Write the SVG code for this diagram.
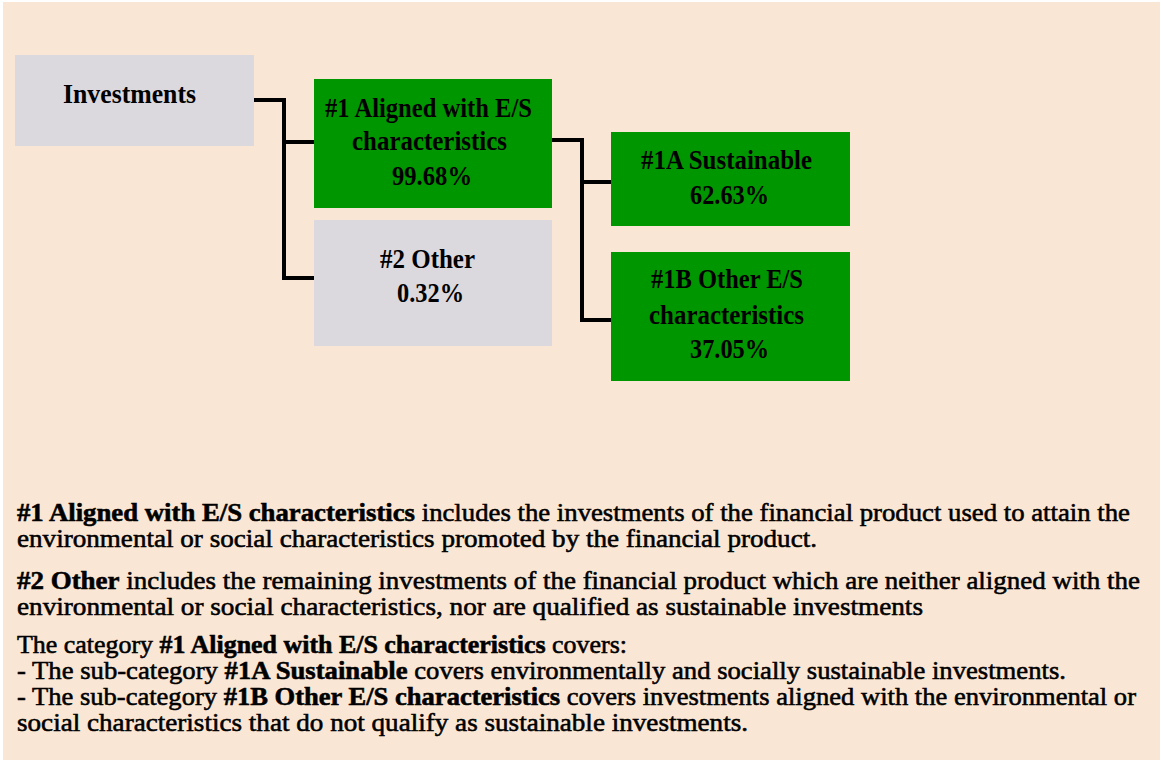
<svg xmlns="http://www.w3.org/2000/svg" width="1161" height="762" viewBox="0 0 1161 762">
<style>
.bg{fill:#FAE6D4}
.gray{fill:#DBD8DE}
.green{fill:#009600}
.t{font-family:"Liberation Serif","Times New Roman",serif;font-size:25px;fill:#000}
.n{font-size:28px}
.b{font-weight:bold}
.r{stroke:#000;stroke-width:0.55px}
.conn{fill:none;stroke:#000;stroke-width:4px;stroke-linejoin:miter}
</style>
<rect x="0" y="0" width="1161" height="762" fill="#ffffff"/>
<rect class="bg" x="3" y="2" width="1157" height="758"/>
<g id="connectors">
<path class="conn" d="M254,100 H284 V278 H314 M284,142 H314"/>
<path class="conn" d="M552,140 H582 V320 H611 M582,182 H611"/>
</g>
<g id="node-investments">
<rect class="gray" x="15" y="55" width="239" height="91"/>
<text class="t n b" x="63" y="103" textLength="133" lengthAdjust="spacingAndGlyphs">Investments</text>
</g>
<g id="node-aligned">
<rect class="green" x="314" y="79" width="238" height="129"/>
<text class="t n b" x="325" y="117" textLength="207" lengthAdjust="spacingAndGlyphs">#1 Aligned with E/S</text>
<text class="t n b" x="352" y="150" textLength="155" lengthAdjust="spacingAndGlyphs">characteristics</text>
<text class="t n b" x="392" y="185" textLength="80" lengthAdjust="spacingAndGlyphs">99.68%</text>
</g>
<g id="node-other">
<rect class="gray" x="314" y="220" width="238" height="126"/>
<text class="t n b" x="380" y="268" textLength="95" lengthAdjust="spacingAndGlyphs">#2 Other</text>
<text class="t n b" x="397" y="302" textLength="67" lengthAdjust="spacingAndGlyphs">0.32%</text>
</g>
<g id="node-sustainable">
<rect class="green" x="611" y="132" width="239" height="94"/>
<text class="t n b" x="641" y="169" textLength="171" lengthAdjust="spacingAndGlyphs">#1A Sustainable</text>
<text class="t n b" x="690" y="204" textLength="79" lengthAdjust="spacingAndGlyphs">62.63%</text>
</g>
<g id="node-other-es">
<rect class="green" x="611" y="252" width="239" height="129"/>
<text class="t n b" x="651" y="288" textLength="152" lengthAdjust="spacingAndGlyphs">#1B Other E/S</text>
<text class="t n b" x="649" y="324" textLength="155" lengthAdjust="spacingAndGlyphs">characteristics</text>
<text class="t n b" x="690" y="358" textLength="79" lengthAdjust="spacingAndGlyphs">37.05%</text>
</g>
<g id="legend">
<text class="t r" x="17" y="521" textLength="1113" lengthAdjust="spacingAndGlyphs"><tspan class="b">#1 Aligned with E/S characteristics</tspan> includes the investments of the financial product used to attain the</text>
<text class="t r" x="17" y="547" textLength="800" lengthAdjust="spacingAndGlyphs">environmental or social characteristics promoted by the financial product.</text>
<text class="t r" x="17" y="589" textLength="1123" lengthAdjust="spacingAndGlyphs"><tspan class="b">#2 Other</tspan> includes the remaining investments of the financial product which are neither aligned with the</text>
<text class="t r" x="17" y="615" textLength="906" lengthAdjust="spacingAndGlyphs">environmental or social characteristics, nor are qualified as sustainable investments</text>
<text class="t r" x="17" y="653" textLength="610" lengthAdjust="spacingAndGlyphs">The category <tspan class="b">#1 Aligned with E/S characteristics</tspan> covers:</text>
<text class="t r" x="17" y="679" textLength="1049" lengthAdjust="spacingAndGlyphs">- The sub-category <tspan class="b">#1A Sustainable</tspan> covers environmentally and socially sustainable investments.</text>
<text class="t r" x="17" y="705" textLength="1119" lengthAdjust="spacingAndGlyphs">- The sub-category <tspan class="b">#1B Other E/S characteristics</tspan> covers investments aligned with the environmental or</text>
<text class="t r" x="17" y="731" textLength="731" lengthAdjust="spacingAndGlyphs">social characteristics that do not qualify as sustainable investments.</text>
</g>
</svg>
